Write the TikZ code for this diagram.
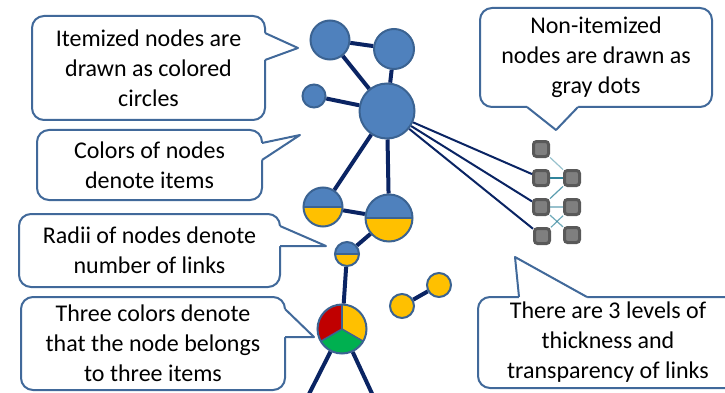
\documentclass[tikz,border=0pt]{standalone}
\usepackage{fontspec}
\setmainfont{Carlito}
\usepackage{tikz}
\usetikzlibrary{calc}

\definecolor{itblue}{HTML}{4F81BD}
\definecolor{itedge}{HTML}{3B6392}
\definecolor{ityellow}{HTML}{FFC000}
\definecolor{itred}{HTML}{C00000}
\definecolor{itgreen}{HTML}{00B050}
\definecolor{linknavy}{HTML}{0A2463}
\definecolor{calledge}{HTML}{41699A}
\definecolor{dotfill}{HTML}{7F7F7F}
\definecolor{dotedge}{HTML}{595959}
\definecolor{weaklink}{HTML}{31849B}

\newcommand\calloutfont{\fontsize{24}{30}\selectfont}

% tail of a callout: base point, tip, base point, shift into the box
\newcommand\calltail[4]{%
  \fill[white] ($#1+#4$) -- #1 -- #2 -- #3 -- ($#3+#4$) -- cycle;
  \draw[calloutline] #1 -- #2 -- #3;}

\tikzset{
  inode/.style={circle, draw=itedge, line width=2pt, fill=itblue, inner sep=0pt, minimum size=#1},
  halfnode/.style={inode=#1, fill=ityellow,
    path picture={\fill[itblue] (path picture bounding box.west) rectangle (path picture bounding box.north east);
      \draw[itedge, line width=1.5pt] (path picture bounding box.west) -- (path picture bounding box.east);}},
  yellownode/.style={inode=#1, fill=ityellow},
  graydot/.style={rectangle, rounded corners=3pt, draw=dotedge, line width=3pt, fill=dotfill, minimum size=15pt, inner sep=0pt},
  strong/.style={linknavy, line width=4pt},
  medium/.style={linknavy, line width=2pt},
  weak/.style={weaklink, line width=1.2pt},
  calloutline/.style={calledge, line width=2pt, line join=round},
  callout/.style={draw=calledge, line width=2pt, rounded corners=12pt, fill=white, align=center, font=\calloutfont, inner sep=0pt},
}

\begin{document}
\begin{tikzpicture}[x=1pt, y=-1pt]
  \useasboundingbox (0,0) rectangle (725,393);
  \clip (0,0) rectangle (725,393);

  % itemized nodes
  \node[inode=39pt] (n1) at (330,40) {};
  \node[inode=40pt] (n2) at (394,49) {};
  \node[inode=23pt] (n3) at (314,96) {};
  \node[inode=55pt] (n4) at (387,111) {};
  \node[halfnode=39pt] (n5) at (323,207) {};
  \node[halfnode=47pt] (n6) at (389,218) {};
  \node[halfnode=24pt] (n7) at (347,254) {};
  \node[inode=49pt, fill=none,
    path picture={
      \begin{scope}[x=1pt, y=1pt]
      \coordinate (m) at (path picture bounding box.center);
      \fill[itred] (m) -- ++(90:30) arc[start angle=90, end angle=210, radius=30] -- cycle;
      \fill[itgreen] (m) -- ++(210:30) arc[start angle=210, end angle=330, radius=30] -- cycle;
      \fill[ityellow] (m) -- ++(330:30) arc[start angle=330, end angle=450, radius=30] -- cycle;
      \foreach \a in {90,210,330}
        \draw[itedge, line width=1.5pt] (m) -- ++(\a:30);
      \end{scope}}] (n8) at (342,329) {};
  \node[yellownode=24pt] (n9) at (402,306) {};
  \node[yellownode=24pt] (n10) at (439,285) {};

  % non-itemized nodes
  \node[graydot] (g1) at (541,149) {};
  \node[graydot] (g2) at (541,178) {};
  \node[graydot] (g3) at (572,178) {};
  \node[graydot] (g4) at (541,207) {};
  \node[graydot] (g5) at (572,207) {};
  \node[graydot] (g6) at (542,236) {};
  \node[graydot] (g7) at (572,235) {};

  \coordinate (foot1) at (306,400);
  \coordinate (foot2) at (375,400);

  % links
  \draw[strong] (n1) -- (n2);
  \draw[strong] (n1) -- (n4);
  \draw[strong] (n3) -- (n4);
  \draw[strong] (n2) -- (n4);
  \draw[strong] (n4) -- (n5);
  \draw[strong] (n4) -- (n6);
  \draw[strong] (n5) -- (n6);
  \draw[strong] (n6) -- (n7);
  \draw[strong] (n7) -- (n8);
  \draw[strong] (n8) -- (foot1);
  \draw[strong] (n8) -- (foot2);
  \draw[strong] (n9) -- (n10);
  \foreach \g in {g2,g4,g6}
    \draw[medium] (n4) -- (\g);
  \draw[weak, opacity=0.5] (g1) -- (g3);
  \draw[weak] (g2) -- (g3);
  \draw[weak, opacity=0.8] (g3) -- (g4);
  \draw[weak, opacity=0.5] (g4) -- (g5);
  \draw[weak, opacity=0.7] (g4) -- (g7);
  \draw[weak, opacity=0.7] (g5) -- (g6);

  % callouts
  \node[callout, minimum width=233pt, minimum height=104pt] (c1) at (148.5,68)
    {Itemized nodes are\\drawn as colored\\circles};
  \calltail{(265,33)}{(298,48)}{(265,60)}{(-3,0)}
  \node[callout, minimum width=225pt, minimum height=70pt] (c2) at (149.5,165)
    {Colors of nodes\\denote items};
  \calltail{(262,143)}{(300,135)}{(262,160)}{(-3,0)}
  \node[callout, minimum width=261pt, minimum height=73pt] (c3) at (149.5,250.5)
    {Radii of nodes denote\\number of links};
  \calltail{(280,226)}{(326,246)}{(280,246)}{(-3,0)}
  \node[callout, minimum width=264pt, minimum height=93pt] (c4) at (153,343.5)
    {Three colors denote\\that the node belongs\\to three items};
  \calltail{(285,309)}{(314,337)}{(285,337)}{(-3,0)}
  \node[callout, minimum width=232pt, minimum height=99pt] (c5) at (596,57.5)
    {Non-itemized\\nodes are drawn as\\gray dots};
  \calltail{(527,107)}{(556,130)}{(578,107)}{(0,-3)}
  \node[callout, minimum width=260pt, minimum height=91pt] (c6) at (608,342.5)
    {There are 3 levels of\\thickness and\\transparency of links};
  \calltail{(519,297)}{(515,257)}{(587,297)}{(0,3)}
\end{tikzpicture}
\end{document}
